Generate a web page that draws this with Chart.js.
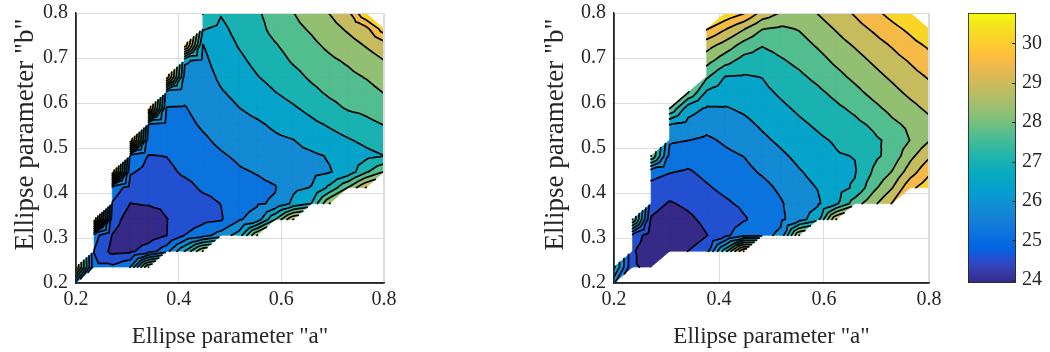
<!DOCTYPE html>
<html><head><meta charset="utf-8">
<script src="https://cdn.jsdelivr.net/npm/chart.js@4.4.1/dist/chart.umd.min.js"></script>
<style>
html,body{margin:0;padding:0;background:#fff;}
#wrap{position:relative;width:1050px;height:352px;overflow:hidden;}
canvas{position:absolute;top:0;}
</style></head><body>
<div id="wrap">
<canvas id="c1" width="400" height="352" style="left:0px"></canvas>
<canvas id="c2" width="420" height="352" style="left:530px"></canvas>
<canvas id="c3" width="100" height="352" style="left:950px"></canvas>
</div>
<script>
// ---------------- data ----------------
const paramA = [0.2000,0.2353,0.2706,0.3059,0.3412,0.3765,0.4118,0.4471,0.4824,0.5176,0.5529,0.5882,0.6235,0.6588,0.6941,0.7294,0.7647,0.8000];
const paramB = [0.2000,0.2353,0.2706,0.3059,0.3412,0.3765,0.4118,0.4471,0.4824,0.5176,0.5529,0.5882,0.6235,0.6588,0.6941,0.7294,0.7647,0.8000];
const xTicks = [0.2,0.4,0.6,0.8];
const yTicks = [0.2,0.3,0.4,0.5,0.6,0.7,0.8];
const colorbarTicks = [24,25,26,27,28,29,30];
const colorLimits = [23.92,30.77];
const contourLevels = [24.54,25.17,25.79,26.41,27.03,27.66,28.28,28.90,29.52,30.15];
const xTitle = 'Ellipse parameter "a"';
const yTitle = 'Ellipse parameter "b"';
const N = null;
// rows: b = paramB[j], columns: a = paramA[i]
const zLeft = [
[26.80,N,N,N,N,N,N,N,N,N,N,N,N,N,N,N,N,N],
[29.55,25.30,25.30,25.80,28.92,N,N,N,N,N,N,N,N,N,N,N,N,N],
[N,25.15,24.36,24.42,24.86,25.55,27.05,28.92,N,N,N,N,N,N,N,N,N,N],
[N,25.42,24.52,24.17,24.23,24.53,25.18,25.55,26.05,26.67,28.92,N,N,N,N,N,N,N],
[N,30.70,24.83,24.23,24.05,24.52,24.82,25.01,25.11,25.73,26.05,27.67,29.55,N,N,N,N,N],
[N,N,25.13,24.53,24.60,24.71,24.80,24.98,25.18,25.55,25.73,25.86,26.55,27.05,28.92,N,N,N],
[N,N,25.55,24.90,24.78,24.87,24.98,25.26,25.36,25.61,25.67,25.76,26.30,26.43,27.17,28.30,29.55,N],
[N,N,30.70,25.23,25.02,25.02,25.27,25.42,25.55,25.73,25.82,25.95,26.20,26.27,26.38,26.61,27.55,28.30],
[N,N,N,25.61,25.15,25.18,25.40,25.57,25.73,25.88,26.01,26.13,26.26,26.32,26.45,26.67,26.86,27.02],
[N,N,N,30.70,25.46,25.38,25.52,25.71,25.90,26.05,26.16,26.31,26.40,26.61,26.80,26.98,27.17,27.36],
[N,N,N,N,25.80,25.58,25.65,25.86,26.02,26.21,26.33,26.51,26.67,26.90,27.10,27.32,27.52,27.68],
[N,N,N,N,30.70,25.77,25.76,25.98,26.17,26.40,26.57,26.76,26.96,27.20,27.48,27.71,27.80,27.97],
[N,N,N,N,N,26.10,25.92,26.08,26.36,26.58,26.80,27.02,27.23,27.51,27.76,27.92,28.05,28.30],
[N,N,N,N,N,30.70,26.23,26.16,26.52,26.77,27.01,27.22,27.48,27.76,27.97,28.13,28.32,28.58],
[N,N,N,N,N,N,26.48,26.27,26.67,26.92,27.17,27.42,27.73,27.95,28.17,28.36,28.63,28.89],
[N,N,N,N,N,N,30.70,26.40,26.77,27.07,27.31,27.62,27.92,28.15,28.42,28.67,28.95,29.23],
[N,N,N,N,N,N,N,27.07,26.90,27.21,27.45,27.87,28.11,28.36,28.67,28.98,29.30,30.50],
[N,N,N,N,N,N,N,27.70,27.07,27.35,27.58,27.92,28.27,28.61,28.92,29.32,30.77,N]
];
const zRight = [
[25.92,N,N,N,N,N,N,N,N,N,N,N,N,N,N,N,N,N],
[27.17,24.61,24.42,N,N,N,N,N,N,N,N,N,N,N,N,N,N,N],
[N,24.61,24.16,24.17,24.55,24.92,27.42,30.17,N,N,N,N,N,N,N,N,N,N],
[N,24.98,24.17,23.95,24.16,24.52,24.98,25.67,25.61,25.92,28.92,N,N,N,N,N,N,N],
[N,28.30,24.48,24.17,24.40,24.71,24.80,25.11,25.42,25.67,26.16,26.80,29.55,N,N,N,N,N],
[N,N,24.80,24.48,24.67,24.91,25.08,25.28,25.42,25.73,26.11,26.33,26.92,27.98,28.73,29.55,N,N],
[N,N,25.02,24.86,24.90,25.11,25.30,25.46,25.61,25.90,26.23,26.43,26.80,27.11,28.11,28.86,29.98,30.55],
[N,N,25.36,25.20,25.11,25.31,25.48,25.62,25.86,26.11,26.37,26.58,26.90,26.98,27.73,28.30,29.23,30.02],
[N,N,28.30,25.61,25.42,25.50,25.67,25.80,26.07,26.31,26.55,26.76,26.98,27.05,27.52,27.86,28.73,29.42],
[N,N,N,25.86,25.80,25.70,25.87,26.03,26.30,26.52,26.75,26.93,27.10,27.30,27.55,27.80,28.30,28.86],
[N,N,N,26.43,26.23,25.98,26.12,26.27,26.50,26.71,26.93,27.12,27.32,27.52,27.76,28.15,28.42,28.73],
[N,N,N,28.30,26.67,26.35,26.37,26.50,26.67,26.91,27.13,27.32,27.55,27.78,28.12,28.45,28.73,29.02],
[N,N,N,N,28.30,26.93,26.70,26.75,26.87,27.12,27.35,27.55,27.81,28.12,28.45,28.73,29.03,29.30],
[N,N,N,N,N,27.77,27.02,26.98,27.05,27.36,27.56,27.80,28.11,28.42,28.71,29.00,29.30,29.58],
[N,N,N,N,N,28.52,27.91,27.42,27.37,27.60,27.80,28.07,28.40,28.68,28.98,29.28,29.58,29.92],
[N,N,N,N,N,29.17,28.68,28.07,27.70,27.87,28.05,28.35,28.67,28.96,29.27,29.58,29.95,30.26],
[N,N,N,N,N,30.20,29.57,28.95,28.30,28.17,28.32,28.62,28.95,29.29,29.60,29.96,30.30,30.70],
[N,N,N,N,N,N,30.67,30.20,29.30,28.86,28.73,28.92,29.27,29.58,29.97,30.36,30.73,N]
];

// ---------------- styling helpers ----------------
const PARULA = [[0.2081,0.1663,0.5292],[0.2116,0.1898,0.5777],[0.2123,0.2138,0.6270],[0.2081,0.2386,0.6771],[0.1959,0.2645,0.7279],[0.1707,0.2919,0.7792],[0.1253,0.3242,0.8303],[0.0591,0.3598,0.8683],[0.0117,0.3875,0.8820],[0.0060,0.4086,0.8828],[0.0165,0.4266,0.8786],[0.0329,0.4430,0.8720],[0.0498,0.4586,0.8641],[0.0629,0.4737,0.8554],[0.0723,0.4887,0.8467],[0.0779,0.5040,0.8384],[0.0793,0.5200,0.8312],[0.0749,0.5375,0.8263],[0.0641,0.5570,0.8240],[0.0488,0.5772,0.8228],[0.0343,0.5966,0.8199],[0.0265,0.6137,0.8135],[0.0239,0.6287,0.8038],[0.0231,0.6418,0.7913],[0.0228,0.6535,0.7768],[0.0267,0.6642,0.7607],[0.0384,0.6743,0.7436],[0.0590,0.6838,0.7254],[0.0843,0.6928,0.7062],[0.1133,0.7015,0.6859],[0.1453,0.7098,0.6646],[0.1801,0.7177,0.6424],[0.2178,0.7250,0.6193],[0.2586,0.7317,0.5954],[0.3022,0.7376,0.5712],[0.3482,0.7424,0.5473],[0.3953,0.7459,0.5244],[0.4420,0.7481,0.5033],[0.4871,0.7491,0.4840],[0.5300,0.7491,0.4661],[0.5709,0.7485,0.4494],[0.6099,0.7473,0.4337],[0.6473,0.7456,0.4188],[0.6834,0.7435,0.4044],[0.7184,0.7411,0.3905],[0.7525,0.7384,0.3768],[0.7858,0.7356,0.3633],[0.8185,0.7327,0.3498],[0.8507,0.7299,0.3360],[0.8824,0.7274,0.3217],[0.9139,0.7258,0.3063],[0.9450,0.7261,0.2886],[0.9739,0.7314,0.2666],[0.9938,0.7455,0.2403],[0.9990,0.7653,0.2164],[0.9955,0.7861,0.1967],[0.9880,0.8066,0.1794],[0.9789,0.8271,0.1633],[0.9697,0.8481,0.1475],[0.9626,0.8705,0.1309],[0.9589,0.8949,0.1132],[0.9598,0.9218,0.0948],[0.9661,0.9514,0.0755],[0.9763,0.9831,0.0538]];
function parulaRGB(t){
  t = Math.max(0, Math.min(1, t));
  const n = PARULA.length - 1, x = t * n;
  const k = Math.min(Math.floor(x), n - 1), f = x - k;
  const a = PARULA[k], b = PARULA[k + 1];
  const c = [0,1,2].map(q => Math.round((a[q] + (b[q] - a[q]) * f) * 255));
  return 'rgb(' + c.join(',') + ')';
}
const FONT = "'Liberation Serif','Times New Roman',serif";
const TXT = '#262626';
const GRIDC = '#dcdcdc';

function clipPoly(poly, L, s){
  const out = [];
  for (let i = 0; i < poly.length; i++){
    const a = poly[i], b = poly[(i + 1) % poly.length];
    const ia = s * (a.z - L) >= 0, ib = s * (b.z - L) >= 0;
    if (ia) out.push(a);
    if (ia !== ib){
      const t = (L - a.z) / (b.z - a.z);
      out.push({x: a.x + (b.x - a.x) * t, y: a.y + (b.y - a.y) * t, z: L});
    }
  }
  return out;
}

function makeContourPlugin(zGrid){
  return {
    id: 'contourFill',
    beforeDatasetsDraw(chart){
      const ctx = chart.ctx, ca = chart.chartArea, xs = chart.scales.x, ys = chart.scales.y;
      const P = (i, j) => ({x: xs.getPixelForValue(paramA[i]), y: ys.getPixelForValue(paramB[j]), z: zGrid[j][i]});
      const tris = [];
      for (let j = 0; j < paramB.length - 1; j++){
        for (let i = 0; i < paramA.length - 1; i++){
          const c = [P(i, j), P(i + 1, j), P(i + 1, j + 1), P(i, j + 1)];
          const bad = c.filter(p => p.z === null).length;
          if (bad === 0){
            const m = {x: (c[0].x + c[2].x) / 2, y: (c[0].y + c[2].y) / 2, z: (c[0].z + c[1].z + c[2].z + c[3].z) / 4};
            for (let k = 0; k < 4; k++) tris.push([c[k], c[(k + 1) % 4], m]);
          } else if (bad === 1){
            tris.push(c.filter(p => p.z !== null));
          }
        }
      }
      ctx.save();
      ctx.beginPath(); ctx.rect(ca.left, ca.top, ca.right - ca.left, ca.bottom - ca.top); ctx.clip();
      const lows = [null].concat(contourLevels);
      for (let k = 0; k < lows.length; k++){
        const lo = lows[k];
        const hi = k < contourLevels.length ? contourLevels[k] : null;
        const ref = lo === null ? colorLimits[0] : lo;
        const col = parulaRGB((ref - colorLimits[0]) / (colorLimits[1] - colorLimits[0]));
        ctx.beginPath();
        for (const t of tris){
          let poly = t;
          if (lo !== null) poly = clipPoly(poly, lo, 1);
          if (hi !== null && poly.length >= 3) poly = clipPoly(poly, hi, -1);
          if (poly.length >= 3){
            ctx.moveTo(poly[0].x, poly[0].y);
            for (let q = 1; q < poly.length; q++) ctx.lineTo(poly[q].x, poly[q].y);
            ctx.closePath();
          }
        }
        ctx.fillStyle = col; ctx.strokeStyle = col; ctx.lineWidth = 0.6;
        ctx.fill(); ctx.stroke();
      }
      ctx.strokeStyle = '#000'; ctx.lineWidth = 1.7; ctx.lineCap = 'round'; ctx.lineJoin = 'round';
      ctx.beginPath();
      for (const L of contourLevels){
        for (const t of tris){
          const pts = [];
          for (let e = 0; e < 3; e++){
            const a = t[e], b = t[(e + 1) % 3];
            if ((a.z >= L) !== (b.z >= L)){
              const f = (L - a.z) / (b.z - a.z);
              pts.push([a.x + (b.x - a.x) * f, a.y + (b.y - a.y) * f]);
            }
          }
          if (pts.length === 2){ ctx.moveTo(pts[0][0], pts[0][1]); ctx.lineTo(pts[1][0], pts[1][1]); }
        }
      }
      ctx.stroke();
      ctx.restore();
      ctx.save();
      ctx.lineWidth = 1;
      ctx.strokeStyle = GRIDC;
      ctx.beginPath();
      ctx.moveTo(ca.left, ca.top + 0.5); ctx.lineTo(ca.right, ca.top + 0.5);
      ctx.moveTo(ca.right - 0.5, ca.top); ctx.lineTo(ca.right - 0.5, ca.bottom);
      ctx.stroke();
      ctx.strokeStyle = TXT; ctx.lineWidth = 1.4;
      ctx.beginPath();
      ctx.moveTo(ca.left, ca.top); ctx.lineTo(ca.left, ca.bottom); ctx.lineTo(ca.right, ca.bottom);
      ctx.stroke();
      ctx.restore();
    }
  };
}

function noPadX(s, h){ s.height = h; s.paddingLeft = 0; s.paddingRight = 0; s.paddingTop = 0; s.paddingBottom = 0; }
function noPadY(s, w){ s.width = w; s.paddingLeft = 0; s.paddingRight = 0; s.paddingTop = 0; s.paddingBottom = 0; }

function plotConfig(zGrid, leftW, rightPad){
  return {
    type: 'scatter',
    data: {datasets: []},
    options: {
      responsive: false, animation: false, devicePixelRatio: 1,
      layout: {autoPadding: false, padding: {top: 13, right: rightPad, bottom: 0, left: 0}},
      plugins: {legend: {display: false}, tooltip: {enabled: false}},
      scales: {
        x: {
          type: 'linear', min: 0.2, max: 0.8,
          afterBuildTicks: s => { s.ticks = xTicks.map(v => ({value: v})); },
          afterFit: s => noPadX(s, 69),
          grid: {color: GRIDC, lineWidth: 1, drawTicks: false},
          border: {color: TXT, width: 1.4},
          ticks: {padding: 6, color: TXT, font: {family: FONT, size: 20, lineHeight: 1.1}, maxRotation: 0, callback: v => v.toFixed(1)},
          title: {display: true, text: xTitle, color: TXT, font: {family: FONT, size: 23}, padding: {top: 0, bottom: 1}}
        },
        y: {
          type: 'linear', min: 0.2, max: 0.8,
          afterBuildTicks: s => { s.ticks = yTicks.map(v => ({value: v})); },
          afterFit: s => noPadY(s, leftW),
          grid: {color: GRIDC, lineWidth: 1, drawTicks: false},
          border: {color: TXT, width: 1.4},
          ticks: {padding: 8, color: TXT, font: {family: FONT, size: 20, lineHeight: 1.1}, callback: v => v.toFixed(1)},
          title: {display: true, text: '    ' + yTitle, color: TXT, font: {family: FONT, size: 27}, padding: {top: 10, bottom: 0}}
        }
      }
    },
    plugins: [makeContourPlugin(zGrid)]
  };
}

new Chart(document.getElementById('c1'), plotConfig(zLeft, 76, 16));
new Chart(document.getElementById('c2'), plotConfig(zRight, 84, 21));

// ---------------- colorbar ----------------
const cbTickPlugin = {
  id: 'cbTicks',
  afterDatasetsDraw(chart){
    const ctx = chart.ctx, ca = chart.chartArea, ys = chart.scales.y;
    ctx.save();
    ctx.strokeStyle = TXT; ctx.lineWidth = 1.2;
    ctx.beginPath();
    for (const v of colorbarTicks){
      const y = Math.round(ys.getPixelForValue(v)) + 0.5;
      ctx.moveTo(ca.right - 4, y); ctx.lineTo(ca.right, y);
    }
    ctx.stroke();
    ctx.restore();
  }
};
new Chart(document.getElementById('c3'), {
  type: 'bar',
  data: {
    labels: [''],
    datasets: [{
      data: [[colorLimits[0], colorLimits[1]]],
      backgroundColor: (c) => {
        const chart = c.chart;
        if (!chart.chartArea) return '#888';
        const ys = chart.scales.y;
        const g = chart.ctx.createLinearGradient(0, ys.getPixelForValue(colorLimits[0]), 0, ys.getPixelForValue(colorLimits[1]));
        for (let k = 0; k < PARULA.length; k++) g.addColorStop(k / (PARULA.length - 1), parulaRGB(k / (PARULA.length - 1)));
        return g;
      },
      borderColor: TXT, borderWidth: 1.2, borderSkipped: false,
      barPercentage: 1, categoryPercentage: 1
    }]
  },
  options: {
    responsive: false, animation: false, devicePixelRatio: 1,
    layout: {autoPadding: false, padding: {top: 13, left: 18, bottom: 69, right: 0}},
    plugins: {legend: {display: false}, tooltip: {enabled: false}},
    scales: {
      x: {display: false},
      y: {
        position: 'right', min: colorLimits[0], max: colorLimits[1],
        afterBuildTicks: s => { s.ticks = colorbarTicks.map(v => ({value: v})); },
        afterFit: s => noPadY(s, 34),
        grid: {display: false, drawTicks: false},
        border: {display: false},
        ticks: {padding: 6, color: TXT, font: {family: FONT, size: 20, lineHeight: 1.1}}
      }
    }
  },
  plugins: [cbTickPlugin]
});
</script>
</body></html>
